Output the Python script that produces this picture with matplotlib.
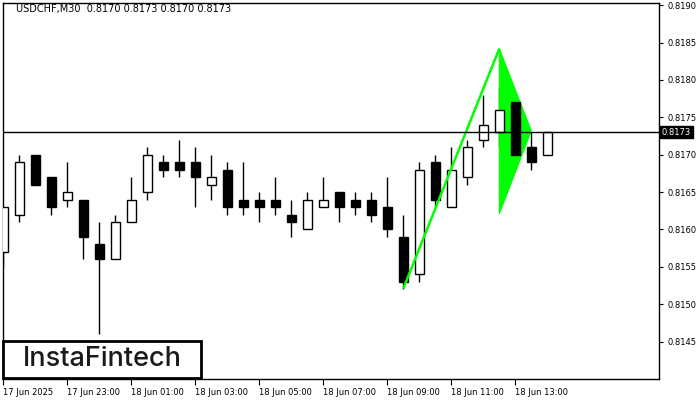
import matplotlib
matplotlib.use('Agg')
import matplotlib.pyplot as plt
from matplotlib.patches import Rectangle, Polygon

# OHLC data (USDCHF M30), prices
opens  = [0.8157, 0.8162, 0.8170, 0.8167, 0.8164, 0.8164, 0.8158, 0.8156, 0.8161, 0.8165,
          0.8169, 0.8169, 0.8169, 0.8166, 0.8168, 0.8164, 0.8164, 0.8164, 0.8162, 0.8160,
          0.8163, 0.8165, 0.8164, 0.8164, 0.8163, 0.8159, 0.8154, 0.8169, 0.8163, 0.8167,
          0.8172, 0.8173, 0.8177, 0.8171, 0.8170]
highs  = [0.8163, 0.8170, 0.8170, 0.8167, 0.8169, 0.8164, 0.8161, 0.8162, 0.8167, 0.8171,
          0.8170, 0.8172, 0.8171, 0.8170, 0.8169, 0.8169, 0.8165, 0.8167, 0.8164, 0.8165,
          0.8167, 0.8165, 0.8165, 0.8165, 0.8167, 0.8162, 0.8169, 0.8170, 0.8171, 0.8172,
          0.8178, 0.8179, 0.8178, 0.8173, 0.8173]
lows   = [0.8155, 0.8161, 0.8166, 0.8162, 0.8163, 0.8156, 0.8146, 0.8156, 0.8161, 0.8164,
          0.8167, 0.8167, 0.8163, 0.8164, 0.8162, 0.8162, 0.8161, 0.8162, 0.8159, 0.8160,
          0.8163, 0.8161, 0.8162, 0.8161, 0.8159, 0.8152, 0.8153, 0.8163, 0.8163, 0.8166,
          0.8171, 0.8171, 0.8168, 0.8168, 0.8170]
closes = [0.8163, 0.8169, 0.8166, 0.8163, 0.8165, 0.8159, 0.8156, 0.8161, 0.8164, 0.8170,
          0.8168, 0.8168, 0.8167, 0.8167, 0.8163, 0.8163, 0.8163, 0.8163, 0.8161, 0.8164,
          0.8164, 0.8163, 0.8163, 0.8162, 0.8160, 0.8153, 0.8168, 0.8164, 0.8168, 0.8171,
          0.8174, 0.8176, 0.8170, 0.8169, 0.8173]

# Bullish pennant pattern (bar index, price)
pole_x = [25, 31]
pole_y = [0.81521, 0.81842]
pennant_x = [31, 31, 33]
pennant_y = [0.81842, 0.81621, 0.81732]

current_price = 0.8173
ytick_vals = [0.8145, 0.8150, 0.8155, 0.8160, 0.8165, 0.8170, 0.8175, 0.8180, 0.8185, 0.8190]
xtick_idx = [0, 4, 8, 12, 16, 20, 24, 28, 32]
xtick_labels = ['17 Jun 2025', '17 Jun 23:00', '18 Jun 01:00', '18 Jun 03:00', '18 Jun 05:00',
                '18 Jun 07:00', '18 Jun 09:00', '18 Jun 11:00', '18 Jun 13:00']
header = 'USDCHF,M30  0.8170 0.8173 0.8170 0.8173'

W, H = 700, 400
fig = plt.figure(figsize=(7, 4), dpi=100)
fig.patch.set_facecolor('white')
ax = fig.add_axes([3 / W, 21 / H, 656 / W, 376 / H])
ax.set_facecolor('white')

body_w = 0.58
for i, (o, h, l, c) in enumerate(zip(opens, highs, lows, closes)):
    ax.vlines(i, l, h, color='black', linewidth=1.0, zorder=2)
    bottom = min(o, c)
    height = max(abs(c - o), 0.000002)
    fc = 'white' if c >= o else 'black'
    ax.add_patch(Rectangle((i - body_w / 2, bottom), body_w, height,
                           facecolor=fc, edgecolor='black', linewidth=1.0, zorder=3))

# pattern
ax.plot(pole_x, pole_y, color='#00ff00', linewidth=1.8, zorder=4, solid_capstyle='butt')
ax.add_patch(Polygon(list(zip(pennant_x, pennant_y)), closed=True,
                     facecolor='#00ff00', edgecolor='#00ff00', linewidth=0.8, zorder=2.5))

# current price line
ax.axhline(current_price, color='black', linewidth=1.0, zorder=5)

ax.set_xlim(-0.02, 40.98)
ax.set_ylim(0.81400, 0.81903)

for s in ax.spines.values():
    s.set_color('black')
    s.set_linewidth(1.0)

ax.yaxis.tick_right()
ax.set_yticks(ytick_vals)
ax.set_yticklabels([f'{v:.4f}' for v in ytick_vals])
ax.tick_params(axis='y', direction='out', length=3, width=0.8, pad=3,
               labelsize=6, colors='black')
ax.set_xticks(xtick_idx)
ax.set_xticklabels(xtick_labels, ha='left')
ax.tick_params(axis='x', direction='out', length=4, width=0.8, pad=2.5,
               labelsize=6, colors='black')

# price label box on the right axis
ax.text(1.004, current_price, f'{current_price:.4f}', transform=ax.get_yaxis_transform(),
        ha='left', va='center', fontsize=6, color='white', zorder=10, clip_on=False,
        bbox=dict(boxstyle='square,pad=0.2', facecolor='black', edgecolor='black'))

# header
fig.text(16 / W, 1 - 9 / H, header, ha='left', va='center', fontsize=7, color='black')

# logo box
logo = Rectangle((3 / W, 1 - 378 / H), 198 / W, 37 / H, transform=fig.transFigure,
                 facecolor='white', edgecolor='black', linewidth=2, zorder=20)
fig.patches.append(logo)
fig.text(102 / W, 1 - 359.5 / H, 'InstaFintech', ha='center', va='center',
         fontsize=19.5, family='Inter', weight='medium', color='#1a1a1a', zorder=21)

fig.savefig('out.png', dpi=100)
